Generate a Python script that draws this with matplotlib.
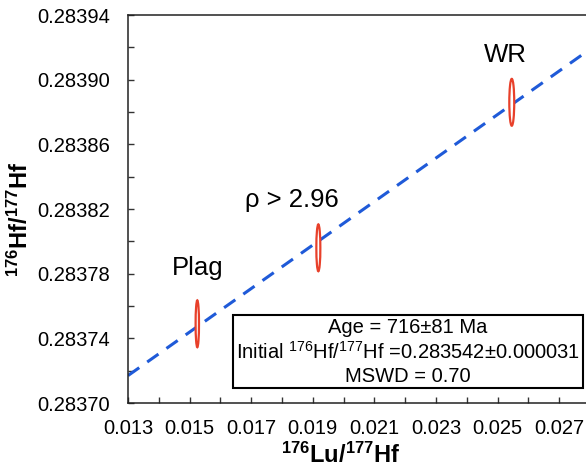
import numpy as np
import matplotlib
matplotlib.use("Agg")
import matplotlib.pyplot as plt
from matplotlib.patches import Ellipse, Rectangle

plt.rcParams['font.family'] = ['Liberation Sans', 'DejaVu Sans']
plt.rcParams['mathtext.fontset'] = 'custom'
plt.rcParams['mathtext.rm'] = 'Liberation Sans'
plt.rcParams['mathtext.bf'] = 'Liberation Sans:bold'
plt.rcParams['mathtext.it'] = 'Liberation Sans:italic'

# ---- data ----
labels = ["Plag", "\u03c1 > 2.96", "WR"]
lu_hf = [0.01525, 0.01918, 0.02546]          # 176Lu/177Hf
hf_hf = [0.283749, 0.283796, 0.283886]       # 176Hf/177Hf
err_x = [0.00011, 0.00013, 0.00016]          # ellipse full width (x)
err_y = [0.0000290, 0.0000290, 0.0000290]    # ellipse full height (y)

initial_ratio = 0.283542
slope = 0.013458
line_x = [0.013, 0.028]

x_major = [0.013, 0.015, 0.017, 0.019, 0.021, 0.023, 0.025, 0.027]
x_minor = [0.014, 0.016, 0.018, 0.020, 0.022, 0.024, 0.026, 0.028]
y_major = [0.28370, 0.28374, 0.28378, 0.28382, 0.28386, 0.28390, 0.28394]
y_minor = [0.28372, 0.28376, 0.28380, 0.28384, 0.28388, 0.28392]

stats_lines = ["Age = 716\u00b181 Ma",
               "Initial $^{176}$Hf/$^{177}$Hf =0.283542\u00b10.000031",
               "MSWD = 0.70"]

# ---- figure ----
fig = plt.figure(figsize=(5.86, 4.67), dpi=100)
ax = fig.add_axes([128/586, 1-403/467, 462/586, 388/467])

ax.set_xlim(0.013, 0.028)
ax.set_ylim(0.28370, 0.28394)

# isochron line
lx = np.array(line_x)
ax.plot(lx, initial_ratio + slope*lx, color='#1f5ad8', lw=2.2,
        dashes=(4.5, 3.2), zorder=2, clip_on=True)

# error ellipses
for x, y, w, h in zip(lu_hf, hf_hf, err_x, err_y):
    ax.add_patch(Ellipse((x, y), w, h, facecolor='white', edgecolor='#e8402a',
                         lw=1.6, zorder=3))

# point labels
label_pos = [(0.01525, 0.283779), (0.01831, 0.283821), (0.02526, 0.283911)]
for t, (px, py) in zip(labels, label_pos):
    ax.text(px, py, t, ha='center', va='baseline', fontsize=18.5, color='black')

# ticks
ax.set_xticks(x_major)
ax.set_xticks(x_minor, minor=True)
ax.set_yticks(y_major)
ax.set_yticks(y_minor, minor=True)
ax.set_xticklabels([f"{v:.3f}" for v in x_major])
ax.set_yticklabels([f"{v:.5f}" for v in y_major])
ax.tick_params(axis='both', which='both', direction='in', length=4.5, width=1,
               color='#333333', labelsize=14.5, top=False, right=False)
ax.tick_params(axis='x', which='both', pad=11.5)
ax.tick_params(axis='y', which='both', pad=13)

for s in ax.spines.values():
    s.set_linewidth(1.1)
    s.set_color('#222222')

# stats box
ax.add_patch(Rectangle((0.227, 0.0387), 0.758, 0.188, transform=ax.transAxes,
                       facecolor='white', edgecolor='black', lw=1.5, zorder=5))
for i, t in enumerate(stats_lines):
    ax.text(0.606, 0.194 - i*0.0632, t, transform=ax.transAxes, ha='center',
            va='center', fontsize=14.5, zorder=6)

# axis labels
fig.text(341/586, 1-455/467, r"$\mathbf{^{176}Lu/^{177}Hf}$", ha='center',
         va='center', fontsize=17)
fig.text(20/586, 1-219/467, r"$\mathbf{^{176}Hf/^{177}Hf}$", ha='center',
         va='center', fontsize=17, rotation=90)

fig.savefig("out.png", dpi=100)
